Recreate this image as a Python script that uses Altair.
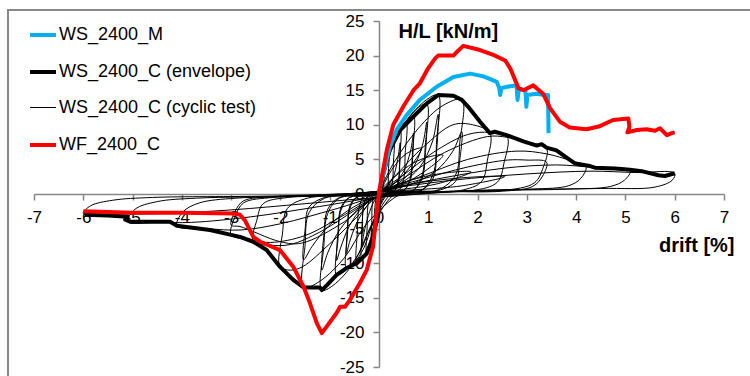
import altair as alt
import pandas as pd

SERIES = ["WS_2400_M", "WS_2400_C (envelope)", "WS_2400_C (cyclic test)", "WF_2400_C"]
COLORS = ["#00B0F0", "#000000", "#000000", "#FF0000"]
WIDTHS = [4, 4, 1, 4]

X_TICKS = list(range(-7, 8))
Y_TICKS = list(range(-25, 30, 5))

# WS_2400_M (monotonic)
blue_x = [0, 0.02, 0.12, 0.22, 0.36, 0.56, 0.83, 1.17, 1.51, 1.85, 2.12, 2.39, 2.44, 2.46, 2.48,
          2.6, 2.79, 2.81, 2.84, 2.97, 2.99, 3.01, 3.2, 3.35, 3.43, 3.44]
blue_y = [0, 1.0, 3.9, 6.8, 9.3, 11.4, 13.6, 15.5, 16.9, 17.4, 17.0, 16.2, 15.3, 14.3, 15.3,
          15.5, 15.7, 13.6, 15.2, 15.0, 12.6, 14.3, 14.5, 14.3, 14.3, 8.8]

# WS_2400_C envelope
env_x = [-5.97, -5.5, -5.1, -5.15, -5.05, -4.92, -4.24, -4.10, -3.43, -3.0, -2.82, -2.55, -2.28,
         -2.01, -1.74, -1.53, -1.2, -1.16, -1.06, -0.86, -0.66, -0.45, -0.25, -0.12, -0.01, 0,
         0.09, 0.22, 0.43, 0.70, 0.97, 1.20, 1.51, 1.68, 1.81, 2.05, 2.25, 2.35, 2.59, 2.93, 3.2,
         3.30, 3.40, 3.60, 3.98, 4.25, 4.38, 4.79, 5.09, 5.33, 5.67, 5.80, 6.0]
env_y = [-3.0, -3.1, -3.3, -3.7, -4.0, -4.0, -4.0, -4.6, -5.2, -5.9, -6.2, -6.9, -8.1,
         -10.5, -12.4, -13.5, -13.5, -13.9, -13.2, -11.7, -10.7, -10.0, -8.6, -6.2, -2.8, 0,
         3.0, 6.4, 9.25, 11.2, 13.1, 14.3, 14.2, 13.6, 12.6, 10.45, 8.8, 9.0, 8.5, 7.6, 7.0,
         7.2, 6.7, 6.3, 4.4, 4.1, 3.8, 3.7, 3.5, 3.3, 2.7, 2.6, 3.0]

# WF_2400_C
red_x = [-6.0, -5.0, -4.0, -2.96, -2.82, -2.72, -2.55, -2.41, -2.01, -1.74, -1.53, -1.40, -1.26,
         -1.16, -0.86, -0.79, -0.69, -0.59, -0.39, -0.25, -0.12, -0.05, 0, 0.02, 0.16, 0.29,
         0.49, 0.70, 0.83, 1.0, 1.14, 1.20, 1.51, 1.59, 1.71, 2.05, 2.32, 2.56, 2.66, 2.83, 2.93,
         3.13, 3.33, 3.47, 3.67, 3.87, 4.21, 4.48, 4.75, 5.06, 5.08, 5.04, 5.23, 5.43, 5.60,
         5.70, 5.84, 5.94, 6.0]
red_y = [-2.5, -2.7, -2.7, -2.8, -3.0, -3.8, -6.2, -6.9, -8.1, -10.5, -13.4, -15.8, -18.7,
         -20.1, -17.2, -16.3, -16.3, -15.3, -12.9, -11.0, -7.6, -2.8, 0, 1.0, 6.4, 10.0,
         12.6, 15.0, 16.0, 18.2, 19.6, 20.0, 20.0, 20.6, 21.4, 20.8, 20.1, 19.3, 18.2, 15.3, 15.0,
         15.7, 14.5, 12.4, 10.45, 9.6, 9.35, 9.8, 10.7, 10.9, 9.7, 8.9, 9.25, 9.35, 9.15,
         9.5, 8.5, 8.8, 8.9]

# WS_2400_C cyclic test: one path per cycle (x, y)
cyc_loops = [
    ([0, 0.04, 0.08, 0.1, 0.09, 0.05, 0.0, -0.04, -0.08, -0.1, -0.09, -0.05, 0],
     [0, 1.0, 2.3, 3.0, 1.5, 0.3, -0.3, -1.5, -3.5, -4.5, -2.5, -0.5, 0]),
    ([0, 0.03, 0.09, 0.16, 0.2, 0.19, 0.18, 0.14, 0.06, -0.02, -0.07, -0.12, -0.15, -0.145, -0.135, -0.1, -0.05, 0],
     [0.3, 2.1, 4.3, 5.7, 6.0, 3.3, 1.2, 0.4, 0.2, -2.4, -4.9, -6.5, -6.8, -3.7, -1.4, -0.5, -0.2, 0.2]),
    ([0, 0.045, 0.135, 0.24, 0.3, 0.29, 0.27, 0.21, 0.09, -0.04, -0.11, -0.2, -0.25, -0.24, -0.225, -0.175, -0.075, 0],
     [0.3, 2.7, 5.6, 7.4, 7.8, 4.3, 1.6, 0.4, 0.2, -3.0, -6.2, -8.2, -8.6, -4.7, -1.7, -0.5, -0.2, 0.2]),
    ([0, 0.065, 0.19, 0.34, 0.43, 0.42, 0.39, 0.3, 0.13, -0.05, -0.16, -0.28, -0.35, -0.34, -0.315, -0.245, -0.1, 0],
     [0.3, 3.3, 6.7, 8.8, 9.3, 5.1, 1.9, 0.4, 0.2, -3.3, -6.8, -8.9, -9.4, -5.2, -1.9, -0.5, -0.2, 0.2]),
    ([0.0, 0.14, 0.28, 0.38, 0.43, 0.42, 0.39, 0.3, 0.12, -0.03, -0.13, -0.24, -0.32, -0.35, -0.34, -0.31, -0.24, -0.1, 0],
     [0.2, 0.9, 2.3, 5.0, 7.4, 4.1, 1.5, 0.4, 0.1, -0.4, -1.5, -3.7, -6.2, -7.6, -4.2, -1.5, -0.4, -0.1, 0.2]),
    ([0, 0.08, 0.25, 0.44, 0.55, 0.53, 0.5, 0.385, 0.165, -0.07, -0.2, -0.36, -0.45, -0.44, -0.405, -0.315, -0.135, 0],
     [0.3, 3.6, 7.4, 9.8, 10.3, 5.7, 2.1, 0.4, 0.2, -3.5, -7.2, -9.5, -10.0, -5.5, -2.0, -0.5, -0.2, 0.2]),
    ([0, 0.105, 0.315, 0.56, 0.7, 0.68, 0.63, 0.49, 0.21, -0.1, -0.3, -0.53, -0.66, -0.64, -0.59, -0.46, -0.2, 0],
     [0.3, 3.9, 8.1, 10.6, 11.2, 6.2, 2.2, 0.4, 0.2, -3.7, -7.7, -10.2, -10.7, -5.9, -2.1, -0.5, -0.2, 0.2]),
    ([0.0, 0.25, 0.48, 0.64, 0.7, 0.68, 0.63, 0.49, 0.2, -0.05, -0.25, -0.46, -0.6, -0.66, -0.64, -0.59, -0.46, -0.2, 0],
     [0.3, 1.2, 3.0, 6.2, 8.8, 4.9, 1.8, 0.5, 0.2, -0.4, -1.8, -4.3, -7.0, -8.6, -4.7, -1.7, -0.5, -0.1, 0.2]),
    ([0, 0.145, 0.44, 0.78, 0.97, 0.94, 0.87, 0.68, 0.29, -0.13, -0.39, -0.69, -0.86, -0.83, -0.77, -0.6, -0.26, 0],
     [0.3, 4.6, 9.4, 12.4, 13.0, 7.1, 2.6, 0.4, 0.2, -4.1, -8.4, -11.1, -11.7, -6.4, -2.3, -0.5, -0.2, 0.3]),
    ([0.0, 0.34, 0.66, 0.88, 0.97, 0.94, 0.87, 0.68, 0.3, -0.05, -0.33, -0.6, -0.78, -0.86, -0.83, -0.77, -0.6, -0.26, 0],
     [0.3, 1.3, 3.4, 7.0, 10.4, 5.7, 2.1, 0.5, 0.2, -0.4, -1.9, -4.6, -7.8, -9.6, -5.3, -1.9, -0.5, -0.1, 0.3]),
    ([0, 0.18, 0.54, 0.96, 1.2, 1.17, 1.1, 0.85, 0.36, -0.17, -0.52, -0.93, -1.16, -1.12, -1.04, -0.8, -0.35, 0],
     [0.3, 5.0, 10.3, 13.6, 14.3, 7.8, 2.9, 0.5, 0.2, -4.9, -10.0, -13.2, -13.9, -7.6, -2.8, -0.6, -0.2, 0.3]),
    ([0.0, 0.45, 0.82, 1.08, 1.2, 1.17, 1.1, 0.85, 0.36, -0.05, -0.42, -0.78, -1.04, -1.16, -1.12, -1.04, -0.8, -0.35, 0],
     [0.3, 1.6, 3.8, 7.5, 11.5, 6.3, 2.3, 0.5, 0.2, -0.4, -2.2, -5.0, -8.5, -11.0, -6.0, -2.2, -0.5, -0.1, 0.3]),
    ([0, 0.3, 0.8, 1.3, 1.68, 1.64, 1.55, 1.2, 0.5, -0.25, -0.7, -1.2, -1.53, -1.5, -1.42, -1.1, -0.5, 0],
     [0.3, 4.5, 9.5, 12.8, 13.6, 7.5, 2.7, 0.6, 0.2, -4.3, -9.2, -12.6, -13.5, -7.4, -2.7, -0.6, -0.2, 0.3]),
    ([0.0, 0.6, 1.15, 1.5, 1.68, 1.64, 1.55, 1.2, 0.5, -0.05, -0.52, -1.02, -1.36, -1.53, -1.5, -1.42, -1.1, -0.5, 0],
     [0.3, 1.3, 3.3, 6.2, 9.0, 5.0, 1.8, 0.5, 0.2, -0.4, -1.9, -4.6, -7.6, -9.5, -5.2, -1.9, -0.5, -0.1, 0.3]),
    ([0, 0.35, 0.9, 1.5, 1.9, 2.25, 2.2, 2.08, 1.65, 0.7, -0.05, -0.4, -1.0, -1.55, -1.8, -2.01, -1.96, -1.86, -1.45, -0.65, 0],
     [0.4, 2.8, 6.8, 10.0, 10.0, 8.8, 4.9, 1.8, 0.5, 0.3, -0.5, -3.0, -7.2, -10.5, -11.0, -10.5, -5.8, -2.1, -0.6, -0.2, 0.4]),
    ([0, 0.45, 1.1, 1.8, 2.25, 2.6, 2.54, 2.4, 1.9, 0.8, -0.05, -0.5, -1.2, -1.8, -2.2, -2.55, -2.48, -2.35, -1.85, -0.8, 0],
     [0.4, 2.5, 6.0, 8.6, 8.9, 8.3, 4.6, 1.7, 0.5, 0.3, -0.5, -2.4, -5.5, -7.3, -7.4, -6.9, -3.8, -1.4, -0.5, -0.2, 0.4]),
    ([0, 0.5, 1.33, 2.2, 2.6, 3.0, 3.4, 3.33, 3.15, 2.5, 1.1, -0.05, -0.7, -1.5, -2.2, -2.6, -3.0, -2.92, -2.75, -2.15, -0.95, 0],
     [0.4, 2.3, 6.0, 8.3, 8.2, 7.5, 6.6, 3.8, 1.6, 0.5, 0.3, -0.5, -3.0, -6.0, -7.0, -6.6, -5.9, -3.3, -1.3, -0.5, -0.2, 0.4]),
    ([0, 0.8, 1.8, 2.6, 3.0, 3.4, 3.32, 3.12, 2.5, 1.1, -0.05, -0.7, -1.57, -2.0, -2.82, -3.0, -2.92, -2.75, -2.15, -0.95, 0],
     [0.4, 2.0, 3.9, 4.9, 4.9, 4.6, 2.6, 1.1, 0.4, 0.3, -0.4, -4.0, -7.1, -6.9, -4.7, -4.5, -2.5, -1.0, -0.4, -0.2, 0.4]),
    ([0, 0.8, 1.8, 2.8, 3.4, 3.9, 4.2, 4.1, 3.85, 3.1, 1.4, -0.05, -0.9, -2.0, -2.8, -3.5, -4.1, -3.98, -3.65, -2.9, -1.3, 0],
     [0.5, 2.4, 5.0, 6.2, 5.8, 4.8, 4.0, 2.3, 1.2, 0.7, 0.4, -0.5, -2.2, -4.3, -5.2, -5.0, -4.6, -2.6, -1.3, -0.6, -0.3, 0.4]),
    ([0, 1.2, 2.5, 3.6, 4.4, 5.1, 4.98, 4.7, 3.8, 1.7, -0.05, -1.2, -2.6, -3.8, -4.5, -5.1, -4.95, -4.5, -3.7, -1.7, 0],
     [0.5, 2.2, 3.7, 4.2, 3.8, 3.4, 2.0, 1.1, 0.7, 0.4, -0.5, -1.8, -3.3, -4.1, -4.1, -4.0, -2.2, -1.1, -0.6, -0.3, 0.3]),
    ([0, 1.5, 3.0, 4.3, 5.2, 6.0, 5.95, 5.6, 4.5, 2.0, -0.05, -1.5, -3.0, -4.3, -5.2, -6.0, -5.85, -5.4, -4.6, -2.2, 0],
     [0.6, 2.0, 2.9, 3.3, 3.1, 3.0, 2.0, 1.0, 0.8, 0.5, -0.5, -1.4, -2.3, -2.8, -2.9, -2.8, -1.7, -0.9, -0.5, -0.3, 0.2]),
    # small leaf-shaped repeat loops
    ([0.05, 0.4, 0.85, 1.3, 0.85, 0.35, 0.05], [0.3, 3.0, 5.0, 5.6, 2.9, 1.0, 0.3]),
    ([0.1, 0.6, 1.3, 1.87, 1.2, 0.5, 0.1], [0.4, 1.9, 3.0, 3.2, 1.5, 0.7, 0.4]),
    ([0.1, 0.8, 1.8, 2.55, 1.7, 0.7, 0.1], [0.4, 1.6, 2.4, 2.5, 1.2, 0.6, 0.4]),
    ([0.03, 0.25, 0.55, 0.86, 0.55, 0.25, 0.03], [0.3, 3.4, 5.8, 6.6, 3.2, 1.2, 0.3]),
]

rows = []
for k, (xs, ys) in enumerate(cyc_loops):
    for i, (x, y) in enumerate(zip(xs, ys)):
        rows.append({"x": x, "y": y, "i": i, "loop": k, "series": SERIES[2]})
cyc_df = pd.DataFrame(rows)


def frame(xs, ys, name):
    return pd.DataFrame({"x": xs, "y": ys, "i": range(len(xs)), "series": name})


blue_df = frame(blue_x, blue_y, SERIES[0])
env_df = frame(env_x, env_y, SERIES[1])
red_df = frame(red_x, red_y, SERIES[3])

FONT = "Liberation Sans"

xenc = alt.X(
    "x:Q",
    scale=alt.Scale(domain=[-7, 7], nice=False, zero=False),
    axis=alt.Axis(
        orient="bottom", offset=-173, values=X_TICKS, labelExpr="'' + datum.value",
        title="drift [%]", titleX=700, titleY=57, titleAlign="right",
        titleBaseline="alphabetic", titleFontSize=20, titleFontWeight="bold",
        titleFont=FONT, titleColor="#000000", labelPadding=9,
    ),
)
yenc = alt.Y(
    "y:Q",
    scale=alt.Scale(domain=[-25, 25], nice=False, zero=False),
    axis=alt.Axis(
        orient="left", offset=-345, values=Y_TICKS, labelExpr="'' + datum.value",
        title="H/L [kN/m]", titleAngle=0, titleX=19, titleY=16, titleAlign="left",
        titleBaseline="alphabetic", titleFontSize=20, titleFontWeight="bold",
        titleFont=FONT, titleColor="#000000", labelPadding=9,
    ),
)
color = alt.Color(
    "series:N",
    scale=alt.Scale(domain=SERIES, range=COLORS),
    legend=alt.Legend(title=None),
)
swidth = alt.StrokeWidth(
    "series:N",
    scale=alt.Scale(type="ordinal", domain=SERIES, range=WIDTHS),
    legend=alt.Legend(title=None),
)
order = alt.Order("i:Q")

cyc = alt.Chart(cyc_df).mark_line(interpolate="catmull-rom").encode(
    x=xenc, y=yenc, color=color, strokeWidth=swidth, detail="loop:N", order=order
)
env = alt.Chart(env_df).mark_line(strokeJoin="round").encode(
    x=xenc, y=yenc, color=color, strokeWidth=swidth, order=order
)
blue = alt.Chart(blue_df).mark_line(strokeJoin="round").encode(
    x=xenc, y=yenc, color=color, strokeWidth=swidth, order=order
)
red = alt.Chart(red_df).mark_line(strokeJoin="round").encode(
    x=xenc, y=yenc, color=color, strokeWidth=swidth, order=order
)

border = alt.Chart(alt.Data(values=[{"a": 1}])).mark_rect(
    fill=None, stroke="#898989", strokeWidth=2
).encode(
    x=alt.value(-26), x2=alt.value(900), y=alt.value(-11), y2=alt.value(600)
)

chart = alt.layer(border, cyc, env, blue, red).properties(
    width=690, height=346,
    autosize=alt.AutoSizeParams(type="none"),
    padding={"left": 34, "top": 21, "right": 26, "bottom": 9},
    background="white",
).configure_view(stroke=None).configure_axis(
    grid=False, domainColor="#868686", domainWidth=1.5, tickColor="#868686",
    tickWidth=1.5, tickSize=6, labelFont=FONT, labelFontSize=17,
    labelColor="#000000", labelFlush=False, labelOverlap=False,
).configure_legend(
    orient="none", legendX=-6, legendY=-1, labelFont=FONT, labelFontSize=18,
    labelColor="#000000", symbolType="stroke", symbolSize=676, rowPadding=13,
    labelOffset=1, labelLimit=0,
)

chart.save("out.html", embed_options={"renderer": "svg", "actions": False})
